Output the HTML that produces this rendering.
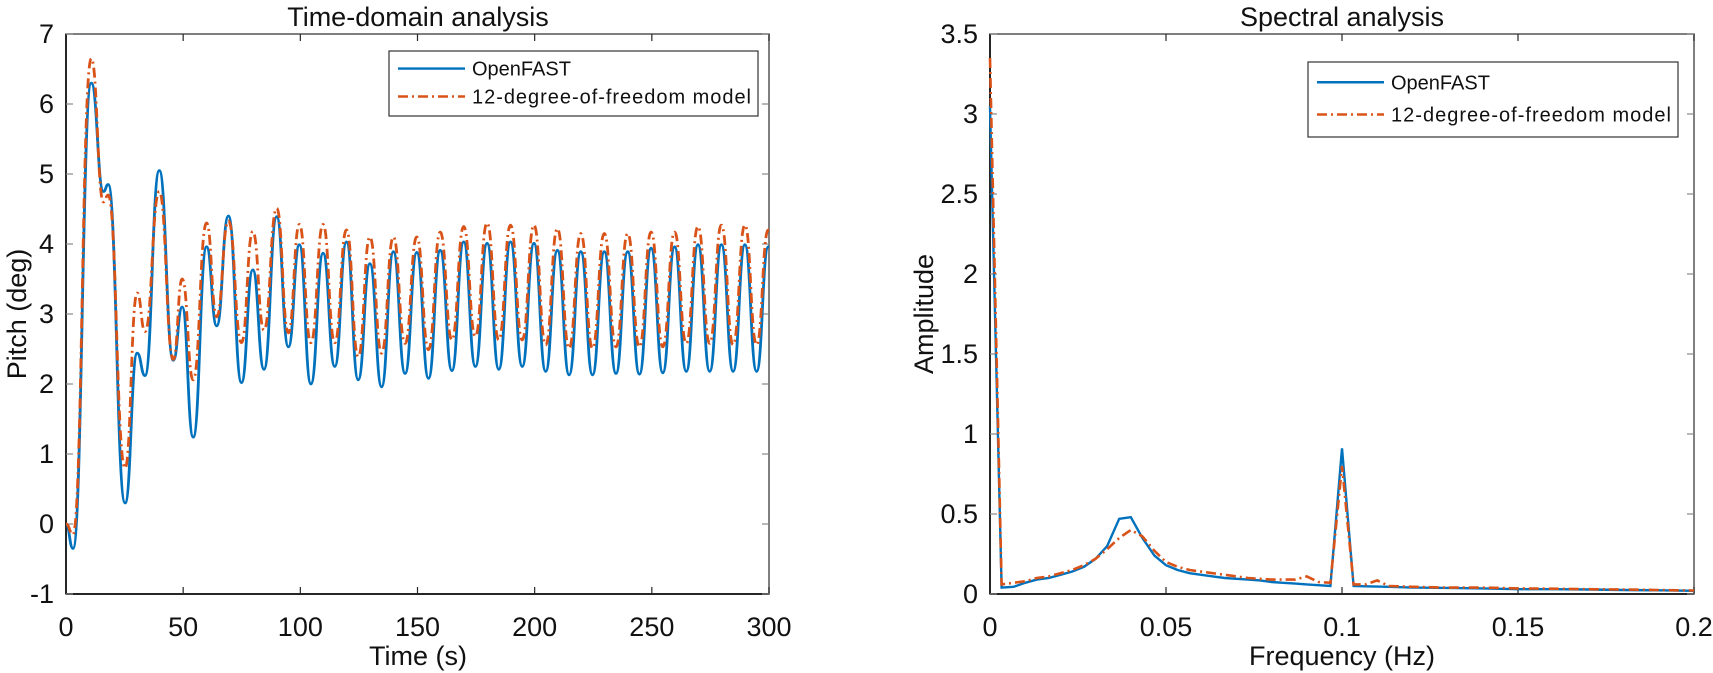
<!DOCTYPE html>
<html><head><meta charset="utf-8"><style>
body{margin:0;background:#fff;}
svg{display:block;font-family:"Liberation Sans",Arial,sans-serif;}
</style></head><body>
<svg id="chart" width="1713" height="673" viewBox="0 0 1713 673">
</svg>
<script>
// ---- Time-domain data ----
const timeS = [0,3,10.8,16,18,25.2,30.4,33.7,39.8,45.8,49.6,54.3,60,64.3,69.3,74.9,79.7,84.5,89.9,94.9,99.6,104.5,109.7,114.7,119.7,124.7,129.7,134.7,139.7,144.7,149.7,154.7,159.7,164.7,169.7,174.7,179.7,184.7,189.7,194.7,199.7,204.7,209.7,214.7,219.7,224.7,229.7,234.7,239.7,244.7,249.7,254.7,259.7,264.7,269.7,274.7,279.7,284.7,289.7,294.7,299.7,300];
const pitchOpenFAST = [0,-0.35,6.3,4.75,4.85,0.3,2.44,2.12,5.05,2.34,3.1,1.24,3.96,2.83,4.4,2.02,3.63,2.21,4.39,2.53,3.99,2.0,3.87,2.25,4.03,2.06,3.72,1.96,3.89,2.15,3.88,2.08,3.91,2.19,4.03,2.25,4.01,2.21,4.03,2.25,4.01,2.18,3.91,2.13,3.89,2.13,3.89,2.15,3.89,2.14,3.94,2.16,3.96,2.18,3.99,2.18,3.99,2.18,3.99,2.18,3.96,3.96];
const pitch12DOF = [0,-0.15,6.65,4.6,4.7,0.8,3.3,2.75,4.75,2.35,3.5,2.06,4.3,2.96,4.33,2.59,4.18,2.77,4.51,2.73,4.28,2.59,4.28,2.59,4.2,2.39,4.1,2.44,4.1,2.58,4.1,2.49,4.17,2.63,4.25,2.68,4.3,2.63,4.27,2.63,4.27,2.56,4.22,2.51,4.15,2.51,4.15,2.53,4.15,2.53,4.17,2.53,4.17,2.58,4.25,2.58,4.27,2.56,4.27,2.56,4.2,4.2];
const timeTicks = [0,50,100,150,200,250,300];
const pitchTicks = [-1,0,1,2,3,4,5,6,7];
// ---- Spectral data ----
const freqHz = [0,0.0033,0.0067,0.01,0.0133,0.0167,0.02,0.0233,0.0267,0.03,0.0333,0.0367,0.04,0.0433,0.0467,0.05,0.0533,0.0567,0.06,0.0633,0.0667,0.07,0.0733,0.0767,0.08,0.0833,0.0867,0.09,0.0933,0.0967,0.1,0.1033,0.1067,0.11,0.1133,0.12,0.13,0.14,0.15,0.16,0.17,0.18,0.19,0.2];
const ampOpenFAST = [3.05,0.04,0.045,0.07,0.09,0.1,0.12,0.14,0.17,0.22,0.3,0.47,0.48,0.35,0.24,0.18,0.15,0.13,0.12,0.11,0.1,0.095,0.09,0.085,0.075,0.07,0.065,0.06,0.055,0.05,0.91,0.05,0.048,0.046,0.045,0.04,0.038,0.035,0.03,0.03,0.028,0.025,0.023,0.02];
const amp12DOF = [3.35,0.06,0.07,0.08,0.1,0.11,0.13,0.15,0.18,0.22,0.28,0.35,0.4,0.36,0.27,0.2,0.17,0.15,0.14,0.13,0.12,0.11,0.1,0.095,0.09,0.09,0.09,0.11,0.075,0.07,0.8,0.06,0.06,0.085,0.05,0.045,0.04,0.04,0.035,0.033,0.03,0.028,0.025,0.022];
const freqTicks = [0,0.05,0.1,0.15,0.2];
const ampTicks = [0,0.5,1,1.5,2,2.5,3,3.5];
const freqTickLabels = ["0","0.05","0.1","0.15","0.2"];
const ampTickLabels = ["0","0.5","1","1.5","2","2.5","3","3.5"];

const NS="http://www.w3.org/2000/svg";
const svg=document.getElementById('chart');
function mk(tag,attrs,parent){const e=document.createElementNS(NS,tag);for(const k in attrs)e.setAttribute(k,attrs[k]);(parent||svg).appendChild(e);return e;}

const A1={x0:66,x1:769,y0:34,y1:594,xmin:0,xmax:300,ymin:-1,ymax:7};
const A2={x0:990,x1:1694,y0:34,y1:594,xmin:0,xmax:0.2,ymin:0,ymax:3.5};
function sx(a,v){return a.x0+(v-a.xmin)/(a.xmax-a.xmin)*(a.x1-a.x0);}
function sy(a,v){return a.y1-(v-a.ymin)/(a.ymax-a.ymin)*(a.y1-a.y0);}

function drawAxes(a,xt,xl,yt,yl,name){
  const g=mk('g',{});
  
  
  const box=mk('rect',{x:a.x0,y:a.y0,width:a.x1-a.x0,height:a.y1-a.y0,fill:'none',stroke:'#555','stroke-width':1.5},g);
  
  
  mk('line',{x1:a.x0,y1:a.y0,x2:a.x0,y2:a.y1,stroke:'#262626','stroke-width':2},g);
  mk('line',{x1:a.x0,y1:a.y1,x2:a.x1,y2:a.y1,stroke:'#262626','stroke-width':2},g);
  xt.forEach((v,i)=>{const x=sx(a,v);
    mk('line',{x1:x,y1:a.y1,x2:x,y2:a.y1-7,stroke:'#262626','stroke-width':1.2},g);
    mk('line',{x1:x,y1:a.y0,x2:x,y2:a.y0+7,stroke:'#262626','stroke-width':1.2},g);
    const t=mk('text',{x:x,y:a.y1+42,'font-size':27,'text-anchor':'middle',fill:'#111'},g);t.textContent=xl[i];
    
    
  });
  yt.forEach((v,i)=>{const y=sy(a,v);
    mk('line',{x1:a.x0,y1:y,x2:a.x0+7,y2:y,stroke:'#888','stroke-width':1.2},g);
    mk('line',{x1:a.x1,y1:y,x2:a.x1-7,y2:y,stroke:'#888','stroke-width':1.2},g);
    const t=mk('text',{x:a.x0-12,y:y+9,'font-size':27,'text-anchor':'end',fill:'#111'},g);t.textContent=yl[i];
    
    
  });
}
function smoothPath(a,xs,ys){
  let d='M'+sx(a,xs[0]).toFixed(1)+','+sy(a,ys[0]).toFixed(1);
  for(let i=1;i<xs.length;i++){
    const xa=sx(a,xs[i-1]),ya=sy(a,ys[i-1]),xb=sx(a,xs[i]),yb=sy(a,ys[i]);const h=(xb-xa)/2;
    d+=' C'+(xa+h).toFixed(1)+','+ya.toFixed(1)+' '+(xb-h).toFixed(1)+','+yb.toFixed(1)+' '+xb.toFixed(1)+','+yb.toFixed(1);
  }return d;}
function linePath(a,xs,ys){return xs.map((v,i)=>(i?'L':'M')+sx(a,v).toFixed(1)+','+sy(a,ys[i]).toFixed(1)).join(' ');}

drawAxes(A1,timeTicks,timeTicks.map(String),pitchTicks,pitchTicks.map(String),'time');
drawAxes(A2,freqTicks,freqTickLabels,ampTicks,ampTickLabels,'spectral');

const clip=mk('clipPath',{id:'c1'});mk('rect',{x:A1.x0,y:A1.y0-20,width:A1.x1-A1.x0,height:A1.y1-A1.y0+20},clip);
const p1=mk('path',{d:smoothPath(A1,timeS,pitchOpenFAST),fill:'none',stroke:'#0072BD','stroke-width':2.8,'clip-path':'url(#c1)'});


const p2=mk('path',{d:smoothPath(A1,timeS,pitch12DOF),fill:'none',stroke:'#D95319','stroke-width':2.8,'stroke-dasharray':'10,4,2,4','clip-path':'url(#c1)'});


const p3=mk('path',{d:linePath(A2,freqHz,ampOpenFAST),fill:'none',stroke:'#0072BD','stroke-width':2.4});


const p4=mk('path',{d:linePath(A2,freqHz,amp12DOF),fill:'none',stroke:'#D95319','stroke-width':2.6,'stroke-dasharray':'10,4,2,4'});



function legend(x,y,w,h,name){
  const g=mk('g',{});
  
  
  mk('rect',{x:x,y:y,width:w,height:h,fill:'#fff',stroke:'#333','stroke-width':1.2},g);
  const r1=y+h*0.27,r2=y+h*0.7;
  mk('line',{x1:x+9,y1:r1,x2:x+76,y2:r1,stroke:'#0072BD','stroke-width':2.4},g);
  mk('line',{x1:x+9,y1:r2,x2:x+76,y2:r2,stroke:'#D95319','stroke-width':2.4,'stroke-dasharray':'10,4,2,4'},g);
  const t1=mk('text',{x:x+83,y:r1+7,'font-size':20,fill:'#111'},g);t1.textContent='OpenFAST';
  
  
  const t2=mk('text',{x:x+83,y:r2+7,'font-size':20,fill:'#111',textLength:w-90},g);t2.textContent='12-degree-of-freedom model';
  
  
}
legend(389,51,369,65,'time-legend');
legend(1308,62,370,75,'spectral-legend');

function txt(x,y,s,size,name,rot){const t=mk('text',{x:x,y:y,'font-size':size,'text-anchor':'middle',fill:'#111'});
  if(rot)t.setAttribute('transform','rotate(-90 '+x+' '+y+')');t.textContent=s;
  
  }
txt(418,26,'Time-domain analysis',27,'time-title');
txt(1342,26,'Spectral analysis',27,'spectral-title');
txt(418,665,'Time (s)',27,'time-x-axis-title');
txt(1342,665,'Frequency (Hz)',27,'spectral-x-axis-title');
txt(26,314,'Pitch (deg)',27,'time-y-axis-title',true);
txt(933,314,'Amplitude',27,'spectral-y-axis-title',true);
</script>
</body></html>
